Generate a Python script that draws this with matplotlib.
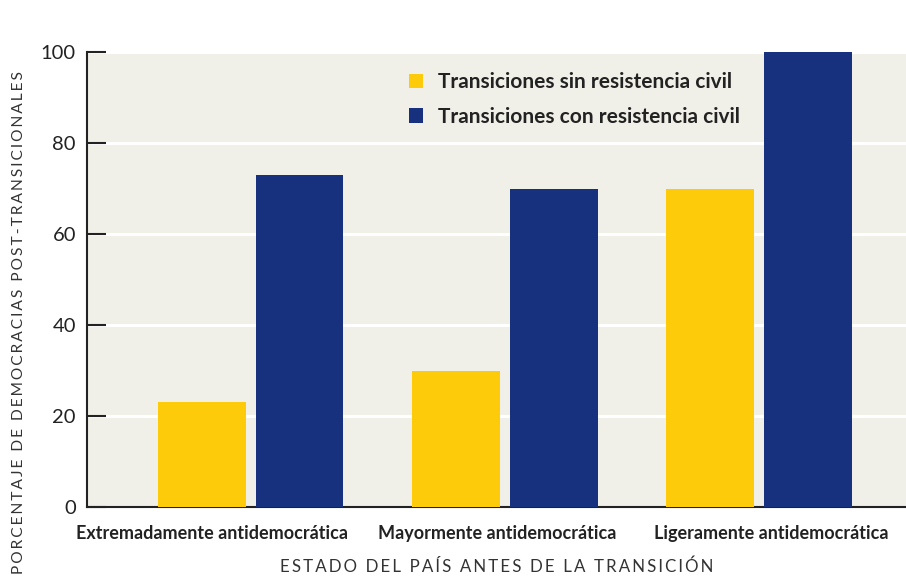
import numpy as np
import matplotlib.pyplot as plt

# Datos
categorias = ["Extremadamente antidemocrática", "Mayormente antidemocrática", "Ligeramente antidemocrática"]
sin_resistencia = [23, 30, 70]
con_resistencia = [73, 70, 100]
etiquetas_series = ["Transiciones sin resistencia civil", "Transiciones con resistencia civil"]
ticks_y = [0, 20, 40, 60, 80, 100]
titulo_x = "ESTADO DEL PAÍS ANTES DE LA TRANSICIÓN"
titulo_y = "PORCENTAJE DE DEMOCRACIAS POST-TRANSICIONALES"

amarillo = "#fecb0a"
azul = "#18317f"
fondo = "#f1f0e8"
texto = "#222222"

plt.rcParams["font.family"] = ["Lato", "DejaVu Sans"]


def espaciar(s):
    # simula el espaciado entre letras
    return "\u2009".join(s)


fig = plt.figure(figsize=(9.06, 5.78), dpi=100)
ax = fig.add_axes([87 / 906, 1 - 507 / 578, 819 / 906, 455 / 578])
ax.set_facecolor(fondo)

x = np.arange(len(categorias))
ancho = 0.346
sep = 0.0197
ax.bar(x - ancho / 2 - sep, sin_resistencia, ancho, color=amarillo, label=etiquetas_series[0], zorder=3)
ax.bar(x + ancho / 2 + sep, con_resistencia, ancho, color=azul, label=etiquetas_series[1], zorder=3)

ax.set_ylim(0, 100)
ax.set_xlim(-0.644, 2.58)
ax.set_yticks(ticks_y)
ax.yaxis.grid(True, color="white", linewidth=2.2, zorder=1)
ax.set_axisbelow(True)

# en el original las etiquetas no están centradas bajo cada grupo
ax.set_xticks([-0.15, 0.97, 2.05])
ax.set_xticklabels(categorias, fontsize=13, fontweight="bold", color=texto)
ax.tick_params(axis="x", length=0, pad=13)
ax.tick_params(axis="y", direction="in", length=14, width=1.5, color=texto,
               labelsize=14.5, labelcolor=texto, pad=8)

for lado in ["top", "right"]:
    ax.spines[lado].set_visible(False)
for lado in ["left", "bottom"]:
    ax.spines[lado].set_color(texto)
    ax.spines[lado].set_linewidth(1.5)

ax.set_ylabel(espaciar(titulo_y), fontsize=11.2, color="#333333")
ax.yaxis.set_label_coords(-0.074, 0.405)
ax.set_xlabel(espaciar(titulo_x), fontsize=12.2, color="#333333", labelpad=12)

ax.legend(loc="upper left", bbox_to_anchor=(0.37, 0.997), frameon=False,
          prop={"size": 15, "weight": "bold"}, labelcolor=texto,
          handlelength=0.7, handleheight=0.7, handletextpad=0.7, labelspacing=0.7)

fig.savefig("out.png", dpi=100, facecolor="white")
